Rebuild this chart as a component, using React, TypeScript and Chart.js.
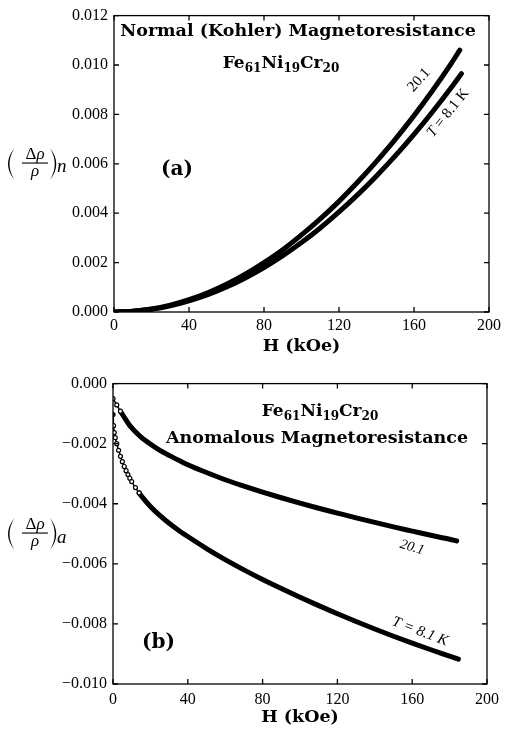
import React, { useEffect, useRef } from "react";
import { Chart, registerables } from "chart.js";
Chart.register(...registerables);

// ---------- data ----------
const X_TICKS = [0, 40, 80, 120, 160, 200];
const Y_TICKS_A = [0, 0.002, 0.004, 0.006, 0.008, 0.01, 0.012];
const Y_TICKS_B = [-0.01, -0.008, -0.006, -0.004, -0.002, 0];

// panel (a) normal (Kohler) magnetoresistance
const H_A_20 = [0, 10, 20, 30, 40, 50, 60, 70, 80, 90, 100, 110, 120, 130, 140, 150, 160, 170, 180, 184.4];
const DR_A_20 = [0, 0.00003, 0.00012, 0.00028, 0.0005, 0.00078, 0.00112, 0.00153, 0.002, 0.00252, 0.00312, 0.00377, 0.00448, 0.00526, 0.0061, 0.00699, 0.00795, 0.00898, 0.01008, 0.0106];
const H_A_8 = [0, 10, 20, 30, 40, 50, 60, 70, 80, 90, 100, 110, 120, 130, 140, 150, 160, 170, 180, 185.3];
const DR_A_8 = [0, 0.00003, 0.00011, 0.00025, 0.00045, 0.0007, 0.00101, 0.00138, 0.0018, 0.00228, 0.00281, 0.0034, 0.00405, 0.00475, 0.00551, 0.00632, 0.00719, 0.00812, 0.0091, 0.00965];

// panel (b) anomalous magnetoresistance
const H_B_20 = [0, 2, 4, 6, 9, 12, 15, 19, 24, 30, 36, 40, 50, 60, 70, 80, 90, 100, 110, 120, 130, 140, 150, 160, 170, 180, 183.8];
const DR_B_20 = [-0.0005, -0.00071, -0.00092, -0.00112, -0.0014, -0.0016, -0.00178, -0.00197, -0.00218, -0.00239, -0.00258, -0.0027, -0.00296, -0.0032, -0.00341, -0.00361, -0.0038, -0.00398, -0.00415, -0.00431, -0.00447, -0.00462, -0.00477, -0.00491, -0.00505, -0.00518, -0.00524];
const H_B_8 = [0, 0.3, 0.7, 1.2, 2, 3, 4, 5, 6, 7, 8, 9, 10, 12, 14, 17, 20, 25, 30, 35, 40, 50, 60, 70, 80, 90, 100, 110, 120, 130, 140, 150, 160, 170, 180, 184.7];
const DR_B_8 = [-0.00103, -0.0014, -0.00163, -0.0018, -0.002, -0.00222, -0.00242, -0.0026, -0.00276, -0.0029, -0.00303, -0.00315, -0.00326, -0.00346, -0.00364, -0.00388, -0.00409, -0.00439, -0.00465, -0.00488, -0.00509, -0.00549, -0.00586, -0.0062, -0.00652, -0.00682, -0.00711, -0.00739, -0.00766, -0.00792, -0.00817, -0.00841, -0.00864, -0.00886, -0.00907, -0.00917];

const TITLE_A = "Normal (Kohler) Magnetoresistance";
const TITLE_B = "Anomalous Magnetoresistance";
const X_TITLE = "H (kOe)";
const FORMULA: [string, boolean][] = [["Fe", false], ["61", true], ["Ni", false], ["19", true], ["Cr", false], ["20", true]];

// ---------- helpers ----------
const SERIF = "'Liberation Serif', 'Times New Roman', serif";
const BOLD = "'DejaVu Serif', serif";

function fmtTick(v: number) {
  if (Math.abs(v) < 1e-9) return "0.000";
  const s = Math.abs(v).toFixed(3);
  return v < 0 ? "\u2212" + s : s;
}
function pts(h: number[], v: number[]) {
  return h.map((x, i) => ({ x, y: v[i] }));
}

function text(ctx: CanvasRenderingContext2D, s: string, x: number, y: number, font: string, align: CanvasTextAlign = "center", baseline: CanvasTextBaseline = "alphabetic", rot = 0) {
  ctx.save();
  ctx.font = font;
  ctx.fillStyle = "#000";
  ctx.textAlign = align;
  ctx.textBaseline = baseline;
  ctx.translate(x, y);
  if (rot) ctx.rotate((rot * Math.PI) / 180);
  ctx.fillText(s, 0, 0);
  ctx.restore();
}

function richText(ctx: CanvasRenderingContext2D, pieces: [string, string][], cx: number, cy: number, rot: number) {
  ctx.save();
  ctx.translate(cx, cy);
  ctx.rotate((rot * Math.PI) / 180);
  ctx.fillStyle = "#000";
  ctx.textBaseline = "middle";
  ctx.textAlign = "left";
  let w = 0;
  pieces.forEach(([s, f]) => { ctx.font = f; w += ctx.measureText(s).width; });
  let x = -w / 2;
  pieces.forEach(([s, f]) => { ctx.font = f; ctx.fillText(s, x, 0); x += ctx.measureText(s).width; });
  ctx.restore();
}

function formula(ctx: CanvasRenderingContext2D, cx: number, base: number) {
  const big = `bold 17px ${BOLD}`;
  const small = `bold 12px ${BOLD}`;
  ctx.save();
  ctx.fillStyle = "#000";
  ctx.textAlign = "left";
  ctx.textBaseline = "alphabetic";
  let w = 0;
  FORMULA.forEach(([s, sub]) => { ctx.font = sub ? small : big; w += ctx.measureText(s).width; });
  let x = cx - w / 2;
  FORMULA.forEach(([s, sub]) => {
    ctx.font = sub ? small : big;
    ctx.fillText(s, x, base + (sub ? 4 : 0));
    x += ctx.measureText(s).width;
  });
  ctx.restore();
}

function paren(ctx: CanvasRenderingContext2D, xEnd: number, xOuter: number, xInner: number, cy: number, half: number) {
  ctx.beginPath();
  ctx.moveTo(xEnd, cy - half);
  ctx.quadraticCurveTo(xOuter, cy, xEnd, cy + half);
  ctx.quadraticCurveTo(xInner, cy, xEnd, cy - half);
  ctx.closePath();
  ctx.fill();
}

function yLabel(ctx: CanvasRenderingContext2D, cy: number, sub: string, denDy: number, subDy: number) {
  ctx.save();
  ctx.fillStyle = "#000";
  paren(ctx, 14.5, 1.5, 4.5, cy, 16);
  paren(ctx, 50, 62.5, 59.5, cy, 16);
  ctx.textBaseline = "alphabetic";
  ctx.textAlign = "left";
  const f1 = `17px ${SERIF}`;
  const f2 = `italic 17px ${SERIF}`;
  ctx.font = f1;
  const wD = ctx.measureText("\u0394").width;
  ctx.font = f2;
  const wR = ctx.measureText("\u03c1").width;
  const x = 35 - (wD + wR) / 2;
  ctx.font = f1;
  ctx.fillText("\u0394", x, cy - 5);
  ctx.font = f2;
  ctx.fillText("\u03c1", x + wD, cy - 5);
  ctx.fillRect(22, cy - 1.5, 26, 1.1);
  ctx.textAlign = "center";
  ctx.fillText("\u03c1", 35, cy + denDy);
  ctx.textAlign = "left";
  ctx.font = `italic 19px ${SERIF}`;
  ctx.fillText(sub, 57, cy + subDy);
  ctx.restore();
}

const framePlugin = {
  id: "frame",
  afterDatasetsDraw(chart: any) {
    const { ctx, chartArea, scales } = chart;
    const { left, right, top, bottom } = chartArea;
    ctx.save();
    ctx.strokeStyle = "#000";
    ctx.lineWidth = 1.3;
    ctx.strokeRect(left, top, right - left, bottom - top);
    ctx.beginPath();
    scales.x.ticks.forEach((t: any) => {
      const px = scales.x.getPixelForValue(t.value);
      ctx.moveTo(px, bottom); ctx.lineTo(px, bottom - 5);
      ctx.moveTo(px, top); ctx.lineTo(px, top + 5);
    });
    scales.y.ticks.forEach((t: any) => {
      const py = scales.y.getPixelForValue(t.value);
      ctx.moveTo(left, py); ctx.lineTo(left + 5, py);
      ctx.moveTo(right, py); ctx.lineTo(right - 5, py);
    });
    ctx.stroke();
    ctx.restore();
  },
};

function makeScales(yTicks: number[], yMin: number, yMax: number, yWidth: number, xHeight: number, xPad: number) {
  return {
    x: {
      type: "linear", min: 0, max: 200,
      grid: { display: false, drawTicks: false }, border: { display: false },
      afterBuildTicks: (s: any) => { s.ticks = X_TICKS.map((value) => ({ value })); },
      ticks: { color: "#000", font: { family: SERIF, size: 16 }, padding: xPad, maxRotation: 0, autoSkip: false, callback: (v: any) => String(v) },
      afterFit: (s: any) => { s.height = xHeight; },
    },
    y: {
      type: "linear", min: yMin, max: yMax,
      grid: { display: false, drawTicks: false }, border: { display: false },
      afterBuildTicks: (s: any) => { s.ticks = yTicks.map((value) => ({ value })); },
      ticks: { color: "#000", font: { family: SERIF, size: 16 }, padding: 6, autoSkip: false, callback: (v: any) => fmtTick(Number(v)) },
      afterFit: (s: any) => { s.width = yWidth; },
    },
  };
}

function baseDataset(h: number[], v: number[]) {
  return {
    data: pts(h, v),
    borderColor: "#000",
    backgroundColor: "#000",
    borderWidth: 5,
    pointRadius: 0,
    fill: false,
    showLine: true,
    cubicInterpolationMode: "monotone",
    borderCapStyle: "round",
    borderJoinStyle: "round",
  };
}

export default function App() {
  const refA = useRef<HTMLCanvasElement>(null);
  const refB = useRef<HTMLCanvasElement>(null);

  useEffect(() => {
    const annoA = {
      id: "annoA",
      afterDraw(chart: any) {
        const ctx = chart.ctx as CanvasRenderingContext2D;
        const { left, right } = chart.chartArea;
        text(ctx, TITLE_A, 298, 36, `bold 17.5px ${BOLD}`);
        formula(ctx, 281, 68);
        text(ctx, "(a)", 177, 170, `bold 20px ${BOLD}`, "center", "middle");
        text(ctx, "20.1", 419, 80, `15px ${SERIF}`, "center", "middle", -48);
        richText(ctx, [["T", `italic 15px ${SERIF}`], [" = 8.1 K", `15px ${SERIF}`]], 448, 113, -51);
        text(ctx, X_TITLE, (left + right) / 2, 346, `bold 17.5px ${BOLD}`, "center", "middle");
        yLabel(ctx, 164, "n", 12, 8);
      },
    };
    const annoB = {
      id: "annoB",
      afterDraw(chart: any) {
        const ctx = chart.ctx as CanvasRenderingContext2D;
        const { left, right } = chart.chartArea;
        formula(ctx, 320, 48);
        text(ctx, TITLE_B, 317, 75, `bold 17.5px ${BOLD}`);
        text(ctx, "(b)", 158.5, 274.5, `bold 20px ${BOLD}`, "center", "middle");
        text(ctx, "20.1", 412, 179.5, `italic 14px ${SERIF}`, "center", "middle", 17);
        text(ctx, "T = 8.1 K", 420, 263.5, `italic 15px ${SERIF}`, "center", "middle", 21);
        text(ctx, X_TITLE, (left + right) / 2, 349, `bold 17.5px ${BOLD}`, "center", "middle");
        yLabel(ctx, 166, "a", 12, 9);
      },
    };

    const chartA = new Chart(refA.current as HTMLCanvasElement, {
      type: "scatter",
      data: {
        datasets: [
          { ...baseDataset(H_A_20, DR_A_20), label: "20.1" },
          { ...baseDataset(H_A_8, DR_A_8), label: "T = 8.1 K" },
        ] as any,
      },
      options: {
        animation: false,
        responsive: false,
        devicePixelRatio: 1,
        layout: { padding: { left: 0, right: 14, top: 11, bottom: 0 } },
        plugins: { legend: { display: false }, tooltip: { enabled: false } },
        scales: makeScales(Y_TICKS_A, 0, 0.012, 114, 56, 4) as any,
      },
      plugins: [framePlugin, annoA],
    });

    const chartB = new Chart(refB.current as HTMLCanvasElement, {
      type: "scatter",
      data: {
        datasets: [
          {
            ...baseDataset(H_B_20, DR_B_20), label: "20.1",
            pointRadius: (c: any) => (c.raw && c.raw.x <= 4 ? 2 : 0),
            pointBackgroundColor: "#fff", pointBorderColor: "#000", pointBorderWidth: 1.2,
            segment: { borderWidth: (c: any) => (c.p1.parsed.x <= 4 ? 1.5 : 5) },
          },
          {
            ...baseDataset(H_B_8, DR_B_8), label: "T = 8.1 K",
            pointRadius: (c: any) => (c.raw && c.raw.x <= 14 ? 2 : 0),
            pointBackgroundColor: (c: any) => (c.dataIndex === 0 ? "#000" : "#fff"),
            pointBorderColor: "#000", pointBorderWidth: 1.2,
            segment: { borderWidth: (c: any) => (c.p1.parsed.x <= 14 ? 1.5 : 5) },
          },
        ] as any,
      },
      options: {
        animation: false,
        responsive: false,
        devicePixelRatio: 1,
        layout: { padding: { left: 0, right: 14, top: 14, bottom: 0 } },
        plugins: { legend: { display: false }, tooltip: { enabled: false } },
        scales: makeScales(Y_TICKS_B, -0.01, 0, 113, 53, 6) as any,
      },
      plugins: [framePlugin, annoB],
    });

    return () => {
      chartA.destroy();
      chartB.destroy();
    };
  }, []);

  return (
    <div style={{ position: "fixed", left: 0, top: 0, width: 505, height: 737, background: "#fff" }}>
      <canvas ref={refA} width={505} height={368} style={{ position: "absolute", left: 0, top: 0, width: 505, height: 368 }} />
      <canvas ref={refB} width={505} height={369} style={{ position: "absolute", left: 0, top: 368, width: 505, height: 369 }} />
    </div>
  );
}
